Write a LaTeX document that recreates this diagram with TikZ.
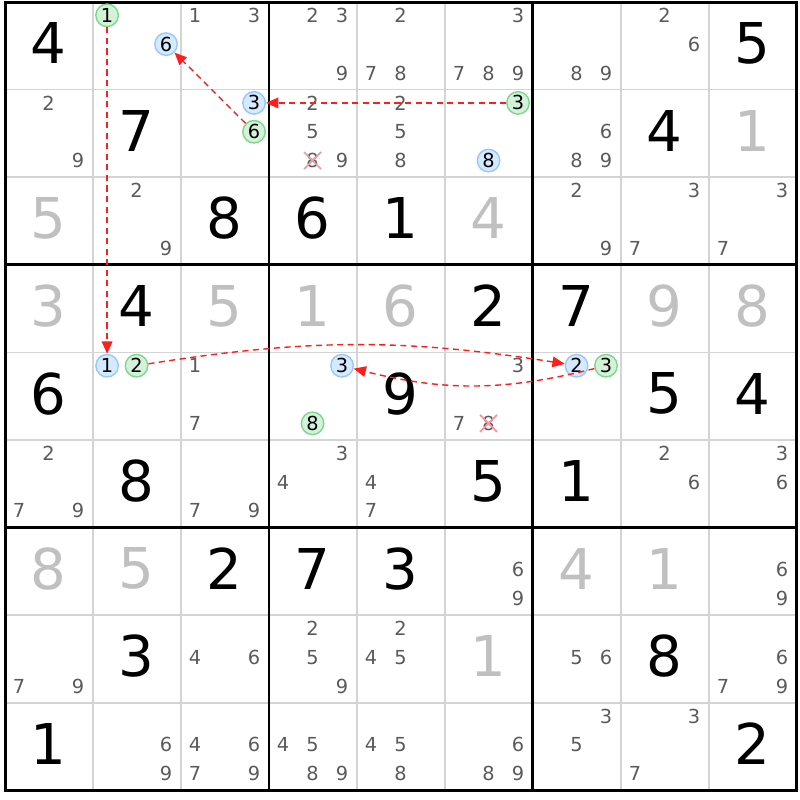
\documentclass[tikz,border=0pt]{standalone}
\usepackage{fontspec}
\setmainfont{DejaVu Sans}
\usetikzlibrary{arrows.meta}
\definecolor{solvedcol}{RGB}{192,192,192}
\definecolor{candcol}{RGB}{90,90,90}
\definecolor{gridcol}{RGB}{212,212,212}
\definecolor{linkcol}{RGB}{255,30,30}
\definecolor{bluefill}{RGB}{214,234,255}
\definecolor{bluedraw}{RGB}{150,200,255}
\definecolor{greenfill}{RGB}{212,242,218}
\definecolor{greendraw}{RGB}{125,215,140}
\definecolor{crosscol}{RGB}{245,150,160}
\tikzset{
  thinline/.style={gridcol, line width=0.9pt},
  boxline/.style={black, line width=1.7pt},
  given/.style={inner sep=0pt, font=\fontsize{32}{32}\selectfont},
  solved/.style={given, text=solvedcol},
  cand/.style={inner sep=0pt, text=candcol, font=\fontsize{11}{11}\selectfont},
  oncirc/.style={circle, inner sep=0pt, minimum size=0.45cm, line width=0.8pt, text=black, font=\fontsize{11}{11}\selectfont},
  onblue/.style={oncirc, fill=bluefill, draw=bluedraw},
  ongreen/.style={oncirc, fill=greenfill, draw=greendraw},
  link/.style={linkcol, line width=0.8pt, dash pattern=on 3.5pt off 2.5pt, -{Triangle[length=7pt,width=6pt]}},
  strike/.style={crosscol, line width=1pt},
}
\begin{document}
\begin{tikzpicture}[x=1.76cm, y=-1.752cm]
\useasboundingbox (-0.057,-0.023) rectangle (9.034,9.11);
%grid
\foreach \i in {1,2,4,5,7,8} {
  \draw[thinline] (\i,0) -- (\i,9);
  \draw[thinline] (0,\i) -- (9,\i);
}
\draw[boxline] (0,0) rectangle (9,9);
\draw[boxline] (3,0) -- (3,9);
\draw[boxline] (6,0) -- (6,9);
\draw[boxline] (0,3) -- (9,3);
\draw[boxline] (0,6) -- (9,6);
%givens and solved cells
\foreach \r/\c/\d in {1/1/4, 1/9/5, 2/2/7, 2/8/4, 3/3/8, 3/4/6, 3/5/1, 4/2/4, 4/6/2, 4/7/7,
  5/1/6, 5/5/9, 5/8/5, 5/9/4, 6/2/8, 6/6/5, 6/7/1, 7/3/2, 7/4/7, 7/5/3, 8/2/3, 8/8/8, 9/1/1, 9/9/2}
  \node[given] (v\r\c) at (\c-0.51,\r-0.53) {\d};
\foreach \r/\c/\d in {2/9/1, 3/1/5, 3/6/4, 4/1/3, 4/3/5, 4/4/1, 4/5/6, 4/8/9, 4/9/8,
  7/1/8, 7/2/5, 7/7/4, 7/8/1, 8/6/1}
  \node[solved] (v\r\c) at (\c-0.51,\r-0.53) {\d};
%candidates
\foreach \r/\c/\d in {1/3/1, 1/3/3, 1/4/2, 1/4/3, 1/4/9, 1/5/2, 1/5/7, 1/5/8, 1/6/3, 1/6/7, 1/6/8, 1/6/9,
  1/7/8, 1/7/9, 1/8/2, 1/8/6,
  2/1/2, 2/1/9, 2/4/2, 2/4/5, 2/4/8, 2/4/9, 2/5/2, 2/5/5, 2/5/8, 2/7/6, 2/7/8, 2/7/9,
  3/2/2, 3/2/9, 3/7/2, 3/7/9, 3/8/3, 3/8/7, 3/9/3, 3/9/7,
  5/3/1, 5/3/7, 5/6/3, 5/6/7, 5/6/8,
  6/1/2, 6/1/7, 6/1/9, 6/3/7, 6/3/9, 6/4/3, 6/4/4, 6/5/4, 6/5/7, 6/8/2, 6/8/6, 6/9/3, 6/9/6,
  7/6/6, 7/6/9, 7/9/6, 7/9/9,
  8/1/7, 8/1/9, 8/3/4, 8/3/6, 8/4/2, 8/4/5, 8/4/9, 8/5/2, 8/5/4, 8/5/5, 8/7/5, 8/7/6,
  8/9/6, 8/9/7, 8/9/9,
  9/2/6, 9/2/9, 9/3/4, 9/3/6, 9/3/7, 9/3/9, 9/4/4, 9/4/5, 9/4/8, 9/4/9, 9/5/4, 9/5/5, 9/5/8,
  9/6/6, 9/6/8, 9/6/9, 9/7/3, 9/7/5, 9/8/3, 9/8/7}
  \node[cand] (c\r\c\d) at ({\c-0.84+0.335*mod(\d-1,3)}, {\r-0.848+0.329*div(\d-1,3)}) {\d};
%eliminated
\draw[strike] ([shift={(-0.17cm,0.17cm)}]c248.center) -- ([shift={(0.17cm,-0.17cm)}]c248.center);
\draw[strike] ([shift={(-0.17cm,-0.17cm)}]c248.center) -- ([shift={(0.17cm,0.17cm)}]c248.center);
\draw[strike] ([shift={(-0.17cm,0.17cm)}]c568.center) -- ([shift={(0.17cm,-0.17cm)}]c568.center);
\draw[strike] ([shift={(-0.17cm,-0.17cm)}]c568.center) -- ([shift={(0.17cm,0.17cm)}]c568.center);
%chain
\node[ongreen] (g121) at (1.16,0.152) {1};
\node[onblue] (b126) at (1.83,0.481) {6};
\node[onblue] (b233) at (2.83,1.152) {3};
\node[ongreen] (g236) at (2.83,1.481) {6};
\node[ongreen] (g263) at (5.83,1.152) {3};
\node[onblue] (b268) at (5.495,1.81) {8};
\node[onblue] (b521) at (1.16,4.152) {1};
\node[ongreen] (g522) at (1.495,4.152) {2};
\node[onblue] (b543) at (3.83,4.152) {3};
\node[ongreen] (g548) at (3.495,4.81) {8};
\node[onblue] (b572) at (6.495,4.152) {2};
\node[ongreen] (g573) at (6.83,4.152) {3};
\draw[link] (g121) -- (b521);
\draw[link] (g263) -- (b233);
\draw[link] (g236) -- (b126);
\draw[link] (g522) to[bend left=9] (b572);
\draw[link] (g573) to[bend left=14] (b543);
\end{tikzpicture}
\end{document}
